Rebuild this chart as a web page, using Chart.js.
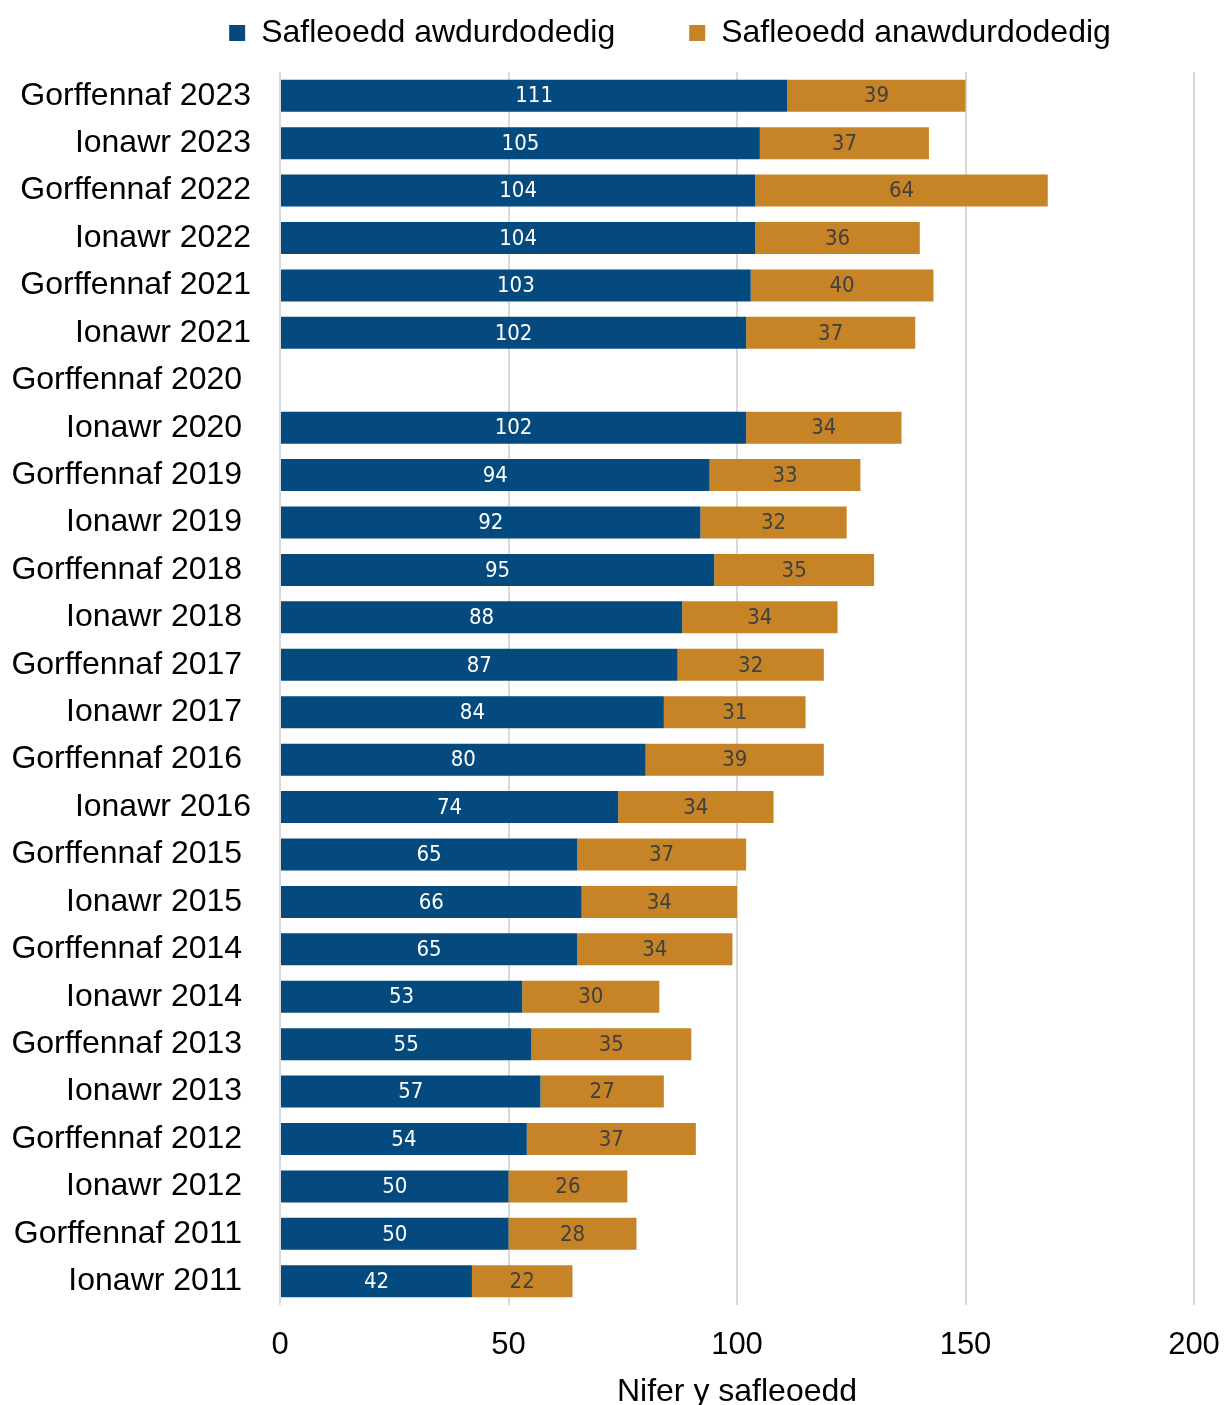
<!DOCTYPE html>
<html>
<head>
<meta charset="utf-8">
<script src="https://cdn.jsdelivr.net/npm/chart.js@4.4.1/dist/chart.umd.min.js"></script>
<style>
  html, body { margin: 0; padding: 0; background: #ffffff; }
  #wrap { width: 1225px; height: 1405px; position: relative; }
</style>
</head>
<body>
<div id="wrap"><canvas id="c" width="1225" height="1405"></canvas></div>
<script>
// ---- data ----
const categories = [
  "Gorffennaf 2023", "Ionawr 2023", "Gorffennaf 2022", "Ionawr 2022",
  "Gorffennaf 2021", "Ionawr 2021", "Gorffennaf 2020 ", "Ionawr 2020 ",
  "Gorffennaf 2019 ", "Ionawr 2019 ", "Gorffennaf 2018 ", "Ionawr 2018 ",
  "Gorffennaf 2017 ", "Ionawr 2017 ", "Gorffennaf 2016 ", "Ionawr 2016",
  "Gorffennaf 2015 ", "Ionawr 2015 ", "Gorffennaf 2014 ", "Ionawr 2014 ",
  "Gorffennaf 2013 ", "Ionawr 2013 ", "Gorffennaf 2012 ", "Ionawr 2012 ",
  "Gorffennaf 2011 ", "Ionawr 2011 "
];
const authorised = [111, 105, 104, 104, 103, 102, null, 102, 94, 92, 95, 88, 87, 84, 80, 74, 65, 66, 65, 53, 55, 57, 54, 50, 50, 42];
const unauthorised = [39, 37, 64, 36, 40, 37, null, 34, 33, 32, 35, 34, 32, 31, 39, 34, 37, 34, 34, 30, 35, 27, 37, 26, 28, 22];
const seriesNames = ["Safleoedd awdurdodedig", "Safleoedd anawdurdodedig"];
const xTicks = [0, 50, 100, 150, 200];
const xTitle = "Nifer y safleoedd";

const BLUE = "#044A7E";
const ORANGE = "#C78427";
const FONT = "'Liberation Sans', Arial, sans-serif";

const legendPatch = {
  id: 'legendPatch',
  beforeInit(chart) {
    const lg = chart.legend;
    if (lg && !lg._patched) {
      const origFit = lg.fit.bind(lg);
      lg.fit = function () { origFit(); this.height = 65; };
      const origDraw = lg.draw.bind(lg);
      lg.draw = function () { this.left = 146; origDraw(); };
      lg._patched = true;
    }
  }
};

const barLabels = {
  id: 'barLabels',
  afterDatasetsDraw(chart) {
    const ctx = chart.ctx;
    ctx.save();
    ctx.font = "22px 'Liberation Sans Narrow', 'DejaVu Sans Condensed', sans-serif";
    ctx.textAlign = 'center';
    ctx.textBaseline = 'middle';
    chart.data.datasets.forEach((ds, di) => {
      const meta = chart.getDatasetMeta(di);
      meta.data.forEach((el, i) => {
        const v = ds.data[i];
        if (v === null || v === undefined) return;
        ctx.fillStyle = di === 0 ? '#ffffff' : '#404040';
        ctx.fillText(String(v), (el.x + el.base) / 2, el.y + 1);
      });
    });
    ctx.restore();
  }
};

new Chart(document.getElementById('c'), {
  type: 'bar',
  data: {
    labels: categories,
    datasets: [
      { label: seriesNames[0], data: authorised, backgroundColor: BLUE,
        barPercentage: 0.675, categoryPercentage: 1.0 },
      { label: seriesNames[1], data: unauthorised, backgroundColor: ORANGE,
        barPercentage: 0.675, categoryPercentage: 1.0 }
    ]
  },
  options: {
    indexAxis: 'y',
    responsive: false,
    animation: false,
    devicePixelRatio: 1,
    layout: { padding: { top: 7, left: 0, right: 31, bottom: 0 } },
    plugins: {
      tooltip: { enabled: false },
      legend: {
        position: 'top',
        align: 'center',
        labels: {
          color: '#000000',
          font: { family: FONT, size: 32 },
          boxWidth: 16,
          boxHeight: 16,
          padding: 10,
          generateLabels(chart) {
            const items = Chart.defaults.plugins.legend.labels.generateLabels(chart);
            items.forEach((it, i) => {
              it.lineWidth = 0;
              if (i === 0) it.text = it.text + '\u2003\u2003';
            });
            return items;
          }
        }
      }
    },
    scales: {
      x: {
        stacked: true,
        min: 0,
        max: 200,
        afterBuildTicks(scale) { scale.ticks = xTicks.map(v => ({ value: v })); },
        afterFit(scale) { scale.height = 100; scale.paddingLeft = 0; scale.paddingRight = 0; },
        grid: { color: '#d9d9d9', lineWidth: 2, drawTicks: false },
        border: { display: false },
        ticks: { color: '#000000', font: { family: FONT, size: 31 }, padding: 22, maxRotation: 0 },
        title: { display: true, text: xTitle, color: '#000000',
                 font: { family: FONT, size: 32 }, padding: { top: 0, bottom: -6 } }
      },
      y: {
        stacked: true,
        afterFit(scale) { scale.width = 280; },
        grid: { display: false, drawTicks: false },
        border: { display: false },
        ticks: { color: '#000000', font: { family: FONT, size: 32 }, padding: 29, autoSkip: false }
      }
    }
  },
  plugins: [legendPatch, barLabels]
});
</script>
</body>
</html>
